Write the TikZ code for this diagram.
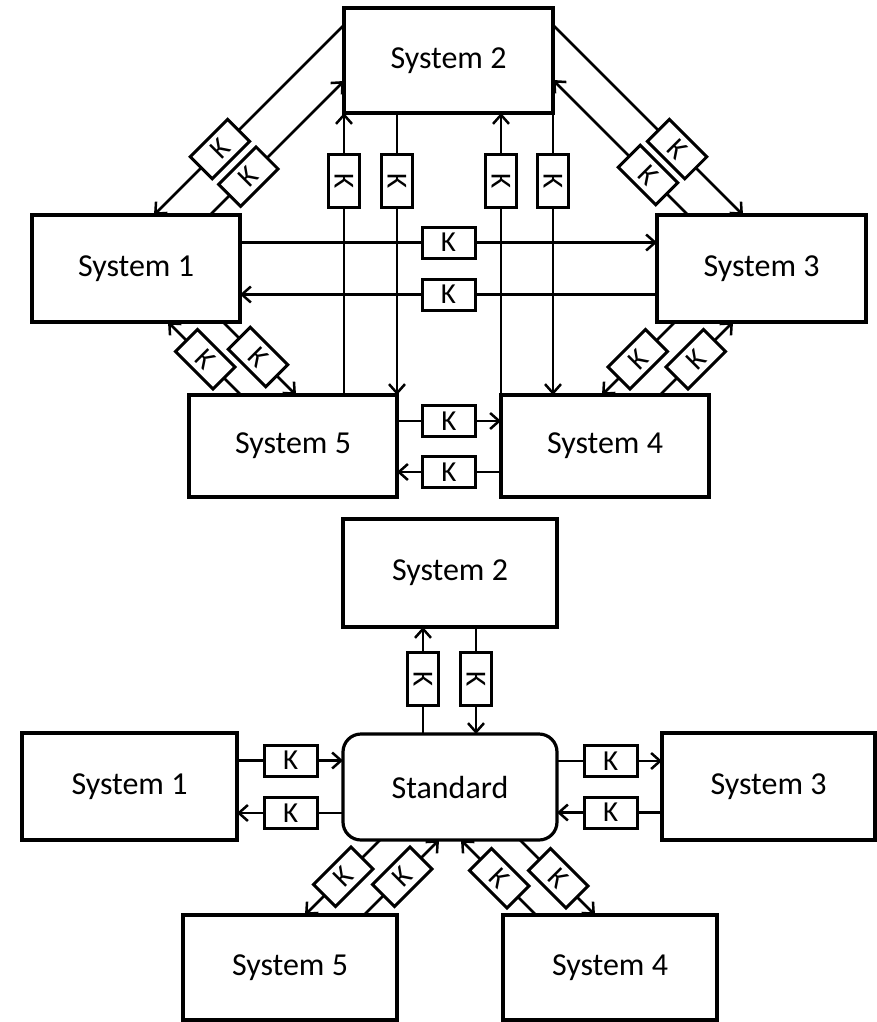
\documentclass[tikz,border=0pt]{standalone}
\usepackage{fontspec}
\setmainfont{Carlito}
\usetikzlibrary{arrows.meta}
\begin{document}
\begin{tikzpicture}[x=1pt,y=-1pt,
  sys/.style={draw, line width=3.2pt, inner sep=0pt, outer sep=0pt, font=\fontsize{32}{36}\selectfont},
  kbox/.style={draw, fill=white, line width=3pt, minimum width=53pt, minimum height=31pt, inner sep=0pt, outer sep=0pt, font=\fontsize{29}{32}\selectfont},
  conn/.style={line width=2.5pt},
  arr/.style={conn, -{Straight Barb[length=9pt,width=16pt,line width=2.5pt]}}]
\useasboundingbox (0,0) rectangle (877,1022);

% ---------- top diagram ----------
\node[sys, minimum width=209pt, minimum height=105pt] (t2) at (448.5,60.5) {System 2};
\node[sys, minimum width=208pt, minimum height=107pt] (t1) at (136,268.5) {System 1};
\node[sys, minimum width=209pt, minimum height=107pt] (t3) at (761.5,268.5) {System 3};
\node[sys, minimum width=208pt, minimum height=102pt] (t5) at (293,446) {System 5};
\node[sys, minimum width=208pt, minimum height=102pt] (t4) at (605,446) {System 4};

% S1 - S2
\draw[arr] ([yshift=-17pt]t2.north west) -- ++(-190,190) node[kbox, rotate=45, pos=0.653] {K};
\draw[arr] ([xshift=178pt]t1.north west) -- ++(134,-134) node[kbox, rotate=45, pos=0.286] {K};
% S2 - S3
\draw[arr] ([yshift=-17pt]t2.north east) -- ++(190,190) node[kbox, rotate=-45, pos=0.653] {K};
\draw[arr] ([xshift=31pt]t3.north west) -- ++(-135,-135) node[kbox, rotate=-45, pos=0.296] {K};
% S1 - S5
\draw[arr] ([xshift=52pt]t5.north west) -- ++(-73,-73) node[kbox, rotate=-45, pos=0.49] {K};
\draw[arr] ([xshift=191pt]t1.south west) -- ++(73,73) node[kbox, rotate=-45, pos=0.48] {K};
% S3 - S4
\draw[arr] ([xshift=18pt]t3.south west) -- ++(-73,73) node[kbox, rotate=45, pos=0.51] {K};
\draw[arr] ([xshift=159pt]t4.north west) -- ++(73,-73) node[kbox, rotate=45, pos=0.49] {K};
% verticals S2 - S5 / S4
\draw[arr] (t2.south west |- t5.north) -- (t2.south west) node[kbox, rotate=-90, pos=0.759] {K};
\draw[arr] (t5.north east |- t2.south) -- (t5.north east) node[kbox, rotate=-90, pos=0.241] {K};
\draw[arr] (t4.north west) -- (t4.north west |- t2.south) node[kbox, rotate=-90, pos=0.759] {K};
\draw[arr] (t2.south east) -- (t2.south east |- t4.north) node[kbox, rotate=-90, pos=0.241] {K};
% S1 - S3
\draw[arr] ([yshift=26pt]t1.east) -- ([yshift=26pt]t1.east -| t3.west) node[kbox, pos=0.5] {K};
\draw[arr] ([yshift=-26pt]t3.west) -- ([yshift=-26pt]t3.west -| t1.east) node[kbox, pos=0.5] {K};
% S5 - S4
\draw[arr] ([yshift=25pt]t5.east) -- ([yshift=25pt]t5.east -| t4.west) node[kbox, pos=0.5] {K};
\draw[arr] ([yshift=-26pt]t4.west) -- ([yshift=-26pt]t4.west -| t5.east) node[kbox, pos=0.5] {K};

% ---------- bottom diagram ----------
\node[sys, minimum width=214pt, minimum height=108pt] (b2) at (450,573) {System 2};
\node[sys, minimum width=214pt, minimum height=106pt, rounded corners=18pt] (bs) at (450,787) {Standard};
\node[sys, minimum width=215pt, minimum height=107pt] (b1) at (129.5,786.5) {System 1};
\node[sys, minimum width=213pt, minimum height=107pt] (b3) at (768.5,786.5) {System 3};
\node[sys, minimum width=214pt, minimum height=105pt] (b5) at (290,967.5) {System 5};
\node[sys, minimum width=214pt, minimum height=105pt] (b4) at (610,967.5) {System 4};

% Standard - S2
\draw[arr] ([xshift=-27pt]bs.north) -- ([xshift=-27pt]b2.south) node[kbox, rotate=-90, pos=0.51] {K};
\draw[arr] ([xshift=26pt]b2.south) -- ([xshift=26pt]bs.north) node[kbox, rotate=-90, pos=0.49] {K};
% S1 - Standard
\draw[arr] ([yshift=26pt]b1.east) -- ([yshift=26pt]b1.east -| bs.west) node[kbox, pos=0.505] {K};
\draw[arr] ([yshift=-26pt]bs.west) -- ([yshift=-26pt]bs.west -| b1.east) node[kbox, pos=0.495] {K};
% Standard - S3
\draw[arr] ([yshift=26pt]bs.east) -- ([yshift=26pt]bs.east -| b3.west) node[kbox, pos=0.51] {K};
\draw[arr] ([yshift=-26pt]b3.west) -- ([yshift=-26pt]b3.west -| bs.east) node[kbox, pos=0.49] {K};
% Standard - S5
\draw[arr] ([xshift=-70pt]bs.south) -- ++(-75,75) node[kbox, rotate=45, pos=0.49] {K};
\draw[arr] ([xshift=74pt]b5.north) -- ++(75,-75) node[kbox, rotate=45, pos=0.51] {K};
% Standard - S4
\draw[arr] ([xshift=-74pt]b4.north) -- ++(-75,-75) node[kbox, rotate=-45, pos=0.49] {K};
\draw[arr] ([xshift=70pt]bs.south) -- ++(75,75) node[kbox, rotate=-45, pos=0.51] {K};
\end{tikzpicture}
\end{document}
